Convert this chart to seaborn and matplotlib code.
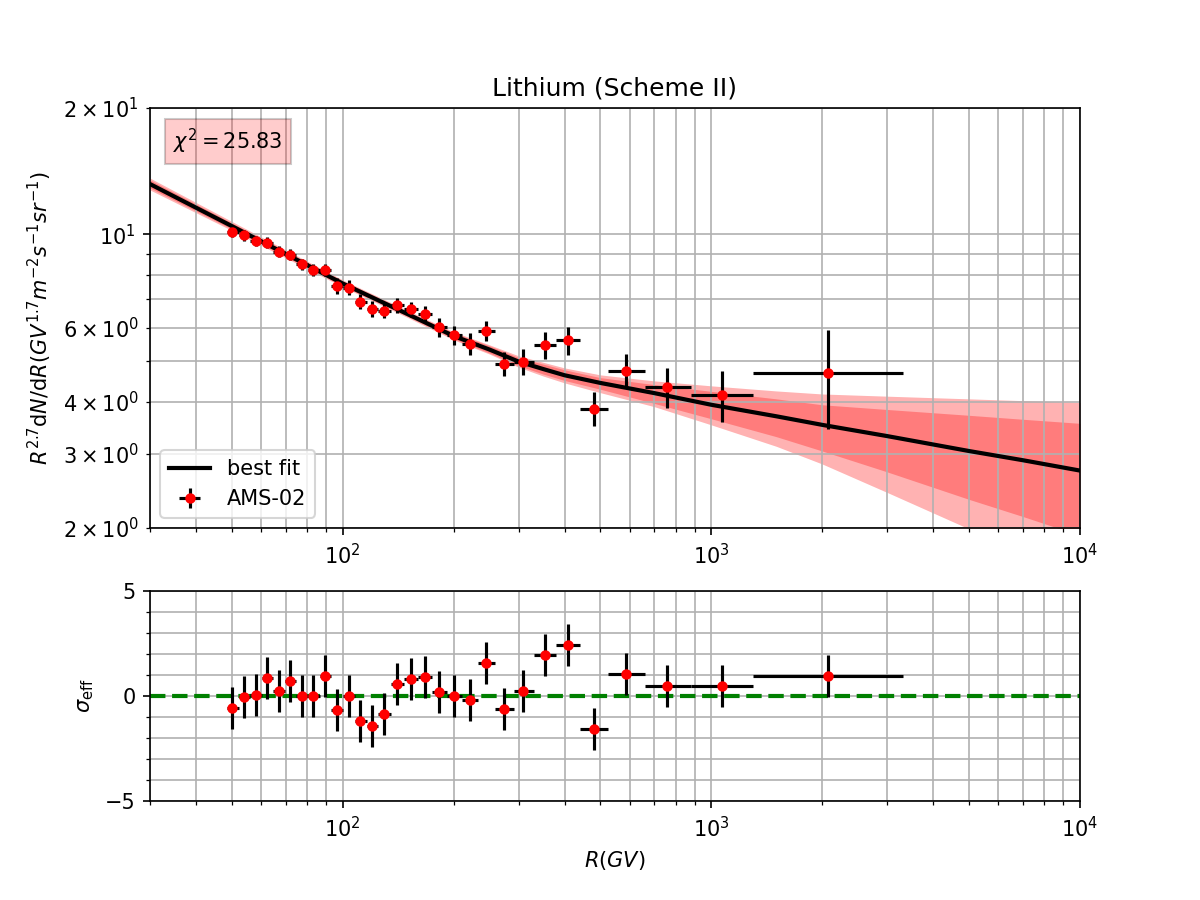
#importamos las bibliotecas necesarias
import numpy as np
import pandas as pd
import seaborn as sns
import matplotlib.pyplot as plt
from matplotlib.ticker import MultipleLocator

# datos AMS-02
R = [50.2, 54.0, 58.1, 62.3, 67.2, 72.1, 77.5, 83.3, 89.5, 96.3,
     103.8, 111.7, 120.0, 129.6, 140.0, 153.0, 167.0, 183.0, 200.7, 221.0,
     245.0, 274.0, 308.0, 353.0, 408.0, 480.0, 587.0, 759.0, 1066.0, 2067.0]
bin_edges = [48.5, 52.2, 56.1, 60.3, 64.8, 69.7, 74.9, 80.5, 86.5, 93.0, 100,
             108, 116, 125, 135, 147, 160, 175, 192, 211, 233, 259, 291, 330,
             379, 441, 525, 660, 880, 1300, 3300]
flux = [10.14, 9.97, 9.65, 9.56, 9.10, 8.95, 8.49, 8.23, 8.22, 7.55,
        7.47, 6.92, 6.65, 6.59, 6.78, 6.64, 6.47, 6.02, 5.75, 5.49,
        5.90, 4.92, 4.97, 5.45, 5.60, 3.85, 4.74, 4.34, 4.15, 4.69]
flux_err = [0.30, 0.30, 0.29, 0.29, 0.28, 0.28, 0.27, 0.27, 0.27, 0.32,
            0.31, 0.29, 0.28, 0.28, 0.29, 0.28, 0.27, 0.31, 0.31, 0.32,
            0.335, 0.33, 0.355, 0.40, 0.43, 0.36, 0.44, 0.48, 0.57, 1.24]
sigma_eff = [-0.57, -0.03, 0.05, 0.86, 0.25, 0.70, 0.0, 0.0, 0.95, -0.68,
             0.0, -1.17, -1.43, -0.84, 0.57, 0.79, 0.90, 0.19, 0.0, -0.17,
             1.57, -0.60, 0.22, 1.95, 2.41, -1.57, 1.03, 0.49, 0.46, 0.95]

# mejor ajuste y bandas
R_fit = [30, 50, 100, 150, 200, 250, 300, 350, 400, 500, 700, 1000, 1500, 2000,
         3000, 5000, 7000, 10000]
best_fit = [13.18, 10.47, 7.64, 6.46, 5.73, 5.32, 4.98, 4.78, 4.62, 4.43, 4.19,
            3.93, 3.69, 3.52, 3.31, 3.05, 2.90, 2.74]
band2_lo = [12.76, 10.22, 7.50, 6.34, 5.61, 5.19, 4.83, 4.60, 4.43, 4.20, 3.89,
            3.52, 3.13, 2.84, 2.43, 1.99, 1.75, 1.52]
band2_hi = [13.62, 10.74, 7.79, 6.59, 5.86, 5.46, 5.14, 4.96, 4.81, 4.63, 4.48,
            4.36, 4.24, 4.17, 4.12, 4.06, 4.02, 3.98]
band1_lo = [12.90, 10.30, 7.54, 6.38, 5.64, 5.22, 4.87, 4.65, 4.49, 4.28, 3.96,
            3.64, 3.30, 3.05, 2.72, 2.34, 2.13, 1.92]
band1_hi = [13.48, 10.65, 7.75, 6.55, 5.83, 5.43, 5.09, 4.91, 4.76, 4.56, 4.39,
            4.23, 4.06, 3.93, 3.83, 3.71, 3.63, 3.55]

df = pd.DataFrame({"R": R, "flux": flux, "err": flux_err, "sigma": sigma_eff})
df["lo"] = bin_edges[:-1]
df["hi"] = bin_edges[1:]
xerr = [df["R"] - df["lo"], df["hi"] - df["R"]]

fit = pd.DataFrame({"R": R_fit, "fit": best_fit})

fig, (ax1, ax2) = plt.subplots(2, 1, figsize=(8, 6), dpi=150,
                               gridspec_kw={"height_ratios": [2, 1]})

# panel superior
ax1.fill_between(R_fit, band2_lo, band2_hi, color="red", alpha=0.3, lw=0)
ax1.fill_between(R_fit, band1_lo, band1_hi, color="red", alpha=0.3, lw=0)
sns.lineplot(data=fit, x="R", y="fit", color="k", lw=2, label="best fit", ax=ax1)
ax1.errorbar(df["R"], df["flux"], xerr=xerr, yerr=df["err"], fmt="o",
             color="red", ms=4, ecolor="k", elinewidth=1.5, label="AMS-02", zorder=3)
ax1.set_xscale("log")
ax1.set_yscale("log")
ax1.set_xlim(30, 1e4)
ax1.set_ylim(2, 20)
ax1.grid(True, which="both")
ax1.set_xlabel("")
ax1.set_ylabel(r"$R^{2.7}\mathrm{d}N/\mathrm{d}R(GV^{1.7}m^{-2}s^{-1}sr^{-1})$")
ax1.set_title("Lithium (Scheme II)")
ax1.text(0.025, 0.955, r"$\chi^2 = 25.83$", transform=ax1.transAxes, fontsize=10,
         va="top", ha="left", bbox=dict(facecolor="red", alpha=0.2))
ax1.legend(loc="lower left")

# panel inferior
ax2.errorbar(df["R"], df["sigma"], xerr=xerr, yerr=1, fmt="o", color="red",
             ms=4, ecolor="k", elinewidth=1.5, zorder=3)
ax2.axhline(0, color="green", ls="--", lw=2)
ax2.set_xscale("log")
ax2.set_xlim(30, 1e4)
ax2.set_ylim(-5, 5)
ax2.set_yticks([-5, 0, 5])
ax2.yaxis.set_minor_locator(MultipleLocator(1))
ax2.grid(True, which="both")
ax2.set_xlabel(r"$R(GV)$")
ax2.set_ylabel(r"$\sigma_{\rm eff}$")

plt.savefig("out.png", dpi=150)
